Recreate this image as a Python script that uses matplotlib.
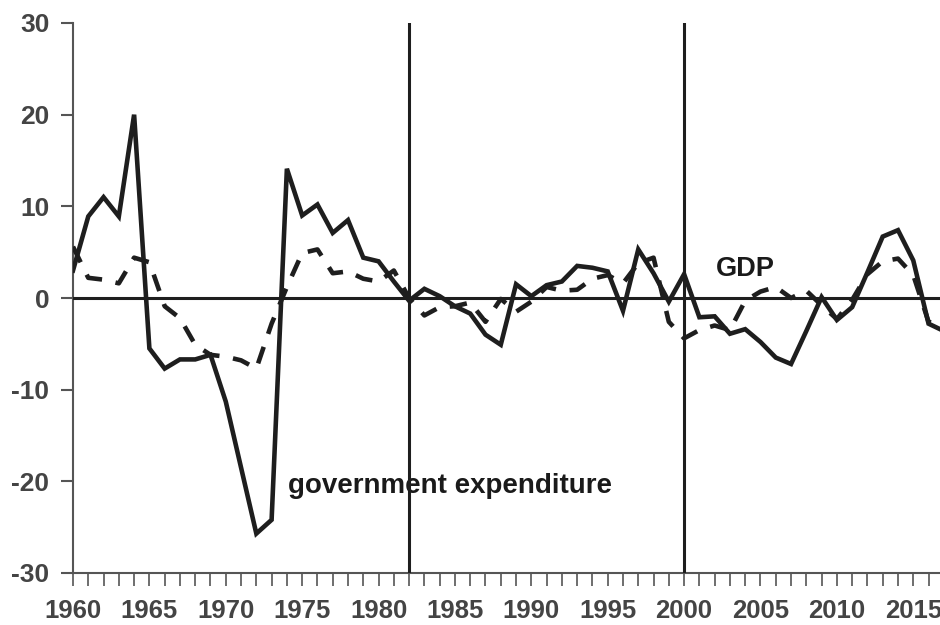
import matplotlib
matplotlib.use("Agg")
import matplotlib.pyplot as plt
from matplotlib.ticker import MultipleLocator

years = list(range(1960, 2018))

gov_exp = [3.0, 8.9, 11.0, 8.9, 20.0, -5.5, -7.7, -6.7, -6.7, -6.2,
           -11.3, -18.5, -25.7, -24.2, 14.1, 9.0, 10.2, 7.1, 8.5, 4.4,
           4.0, 1.8, -0.3, 1.0, 0.2, -0.9, -1.7, -4.0, -5.1, 1.5,
           0.2, 1.4, 1.8, 3.5, 3.3, 2.9, -1.4, 5.3, 2.7, -0.4,
           2.6, -2.1, -2.0, -3.9, -3.4, -4.8, -6.5, -7.2, -3.6, 0.1,
           -2.4, -1.0, 2.8, 6.7, 7.4, 4.1, -2.8, -3.6]

gdp = [5.6, 2.2, 2.0, 1.6, 4.4, 3.9, -0.9, -2.2, -5.1, -6.2,
       -6.4, -6.8, -7.7, -2.8, 1.2, 4.9, 5.3, 2.7, 2.9, 2.1,
       1.8, 3.0, 0.0, -1.9, -1.0, -0.9, -0.5, -2.6, -0.1, -1.5,
       -0.4, 1.2, 0.8, 0.9, 2.1, 2.5, 1.6, 3.8, 4.4, -2.6,
       -4.4, -3.5, -3.0, -3.5, -0.3, 0.7, 1.2, 0.0, 0.8, -0.8,
       -2.3, -0.2, 2.6, 4.0, 4.3, 2.5, -2.6, -3.0]

break_years = [1982, 2000]
y_ticks = [-30, -20, -10, 0, 10, 20, 30]
x_labels = list(range(1960, 2020, 5))

plt.rcParams['font.family'] = ['Liberation Sans', 'DejaVu Sans']
plt.rcParams['axes.unicode_minus'] = False

fig = plt.figure(figsize=(9.4, 6.25), dpi=100)
ax = fig.add_axes([73/940, 52/625, 1 - 73/940, 550/625])

ax.plot(years, gov_exp, color='#1e1e1e', lw=3.3, solid_joinstyle='miter', zorder=4)
ax.plot(years, gdp, color='#1e1e1e', lw=3.3, dashes=(3.8, 3.0), zorder=4)

ax.axhline(0, color='#1e1e1e', lw=2.2, zorder=3)
for by in break_years:
    ax.axvline(by, color='#1e1e1e', lw=2.2, zorder=3)

ax.set_xlim(1960, 2016.75)
ax.set_ylim(-30, 30)
ax.set_yticks(y_ticks)
ax.set_xticks(x_labels)
ax.xaxis.set_minor_locator(MultipleLocator(1))

for s in ['top', 'right']:
    ax.spines[s].set_visible(False)
for s in ['left', 'bottom']:
    ax.spines[s].set_color('#555555')
    ax.spines[s].set_linewidth(1.5)

ax.tick_params(axis='y', direction='out', length=9, width=1.5, color='#555555',
               labelsize=19, labelcolor='#444444', pad=8)
ax.tick_params(axis='x', which='minor', direction='out', length=9, width=1.2, color='#555555')
ax.tick_params(axis='x', which='major', direction='out', length=9, width=1.2,
               color='#555555', labelsize=18.5, labelcolor='#444444', pad=10)
for lab in ax.get_xticklabels() + ax.get_yticklabels():
    lab.set_fontweight('bold')

ax.text(1974.1, -20.5, 'government expenditure', fontsize=20, fontweight='bold',
        color='#1a1a1a', ha='left', va='center', zorder=2)
ax.text(2002.1, 3.2, 'GDP', fontsize=19.5, fontweight='bold',
        color='#1a1a1a', ha='left', va='center', zorder=2)

fig.savefig('out.png', dpi=100)
